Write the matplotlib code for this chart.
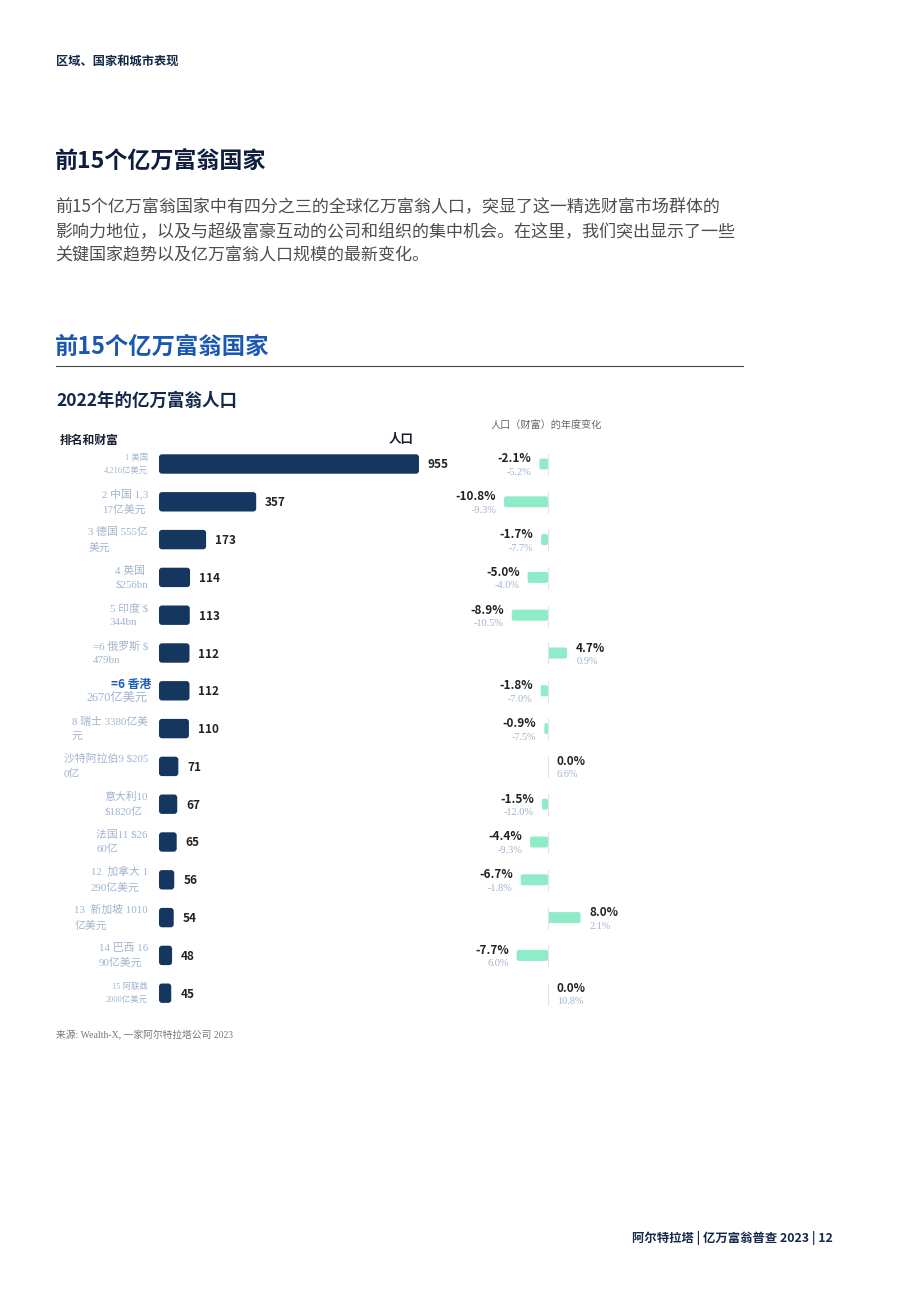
"""Top 15 billionaire countries - population bars with yearly change."""
import matplotlib.pyplot as plt
from matplotlib.patches import FancyBboxPatch, BoxStyle

plt.rcParams['font.family'] = ['Noto Sans CJK SC', 'DejaVu Sans']

W, H = 920, 1302
NAVY = "#14365f"
MINT = "#8eedc8"
PALE = "#a2b4ce"
SERIF = ['Liberation Serif', 'Noto Sans CJK SC']

# ---- data ----
rank_labels = [
    "1 美国\n4,216亿美元",
    "2 中国 1,3\n17亿美元",
    "3 德国 555亿\n美元",
    "4 英国\n$256bn",
    "5 印度 $\n344bn",
    "=6 俄罗斯 $\n479bn",
    "=6 香港",
    "8 瑞士 3380亿美\n元",
    "沙特阿拉伯9 $205\n0亿",
    "意大利10\n$1820亿",
    "法国11 $26\n60亿",
    "12  加拿大 1\n290亿美元",
    "13  新加坡 1010\n亿美元",
    "14 巴西 16\n90亿美元",
    "15 阿联酋\n2000亿美元",
]
hk_wealth = "2670亿美元"
population = [955, 357, 173, 114, 113, 112, 112, 110, 71, 67, 65, 56, 54, 48, 45]
pop_change = [-2.1, -10.8, -1.7, -5.0, -8.9, 4.7, -1.8, -0.9, 0.0, -1.5, -4.4, -6.7, 8.0, -7.7, 0.0]
wealth_change = [-5.2, -9.3, -7.7, -4.0, -10.5, 0.9, -7.0, -7.5, 6.6, -12.0, -9.3, -1.8, 2.1, 6.0, 10.8]

fig = plt.figure(figsize=(W / 100, H / 100), dpi=100)


def px_axes(x0, y0, x1, y1):
    ax = fig.add_axes([x0 / W, 1 - y1 / H, (x1 - x0) / W, (y1 - y0) / H])
    ax.set_axis_off()
    return ax


def ftext(x, y, s, **kw):
    kw.setdefault("va", "center")
    return fig.text(x / W, 1 - y / H, s, **kw)


def rounded_bar(ax, y, value, height, r_px, px_x, px_y, color):
    if value == 0:
        return
    w = abs(value)
    r_px = min(r_px, w * px_x / 2, height * px_y / 2)
    r = r_px / px_x
    aspect = (r_px / px_y) / r
    patch = FancyBboxPatch((min(0, value), y - height / 2), w, height,
                           boxstyle=BoxStyle.Round(pad=0, rounding_size=r),
                           mutation_aspect=aspect, fc=color, ec="none",
                           transform=ax.transData)
    ax.add_patch(patch)


# ---- page header ----
ftext(56, 61, "区域、国家和城市表现", size=8.8, weight="bold", color="#13294b")
ftext(55, 162, "前15个亿万富翁国家", size=16.6, weight="bold", color="#0e1e3c")
para = ["前15个亿万富翁国家中有四分之三的全球亿万富翁人口，突显了这一精选财富市场群体的",
        "影响力地位，以及与超级富豪互动的公司和组织的集中机会。在这里，我们突出显示了一些",
        "关键国家趋势以及亿万富翁人口规模的最新变化。"]
for i, line in enumerate(para):
    ftext(55, 207 + 24 * i, line, size=12.25, color="#4d4d4d")
ftext(55, 347, "前15个亿万富翁国家", size=16.8, weight="bold", color="#1b58b2")
fig.add_artist(plt.Line2D([56 / W, 743 / W], [1 - 366 / H] * 2, color="#444", lw=0.8))
ftext(56, 401, "2022年的亿万富翁人口", size=12.6, weight="bold", color="#13294b")
ftext(60, 440, "排名和财富", size=8.5, weight="bold", color="#1a1f2e")
ftext(389, 440, "人口", size=9, weight="bold", color="#1a1f2e")
ftext(491, 426, "人口（财富）的年度变化", size=7.25, color="#666666")

# ---- population bars ----
row_top, row_step = 445.1, 37.8
n = len(population)
row_bottom = row_top + row_step * n
ax1 = px_axes(159, row_top, 419, row_bottom)
ax1.set_xlim(0, 955)
ax1.set_ylim(n - 0.5, -0.5)
px_x1 = 260 / 955
for i, v in enumerate(population):
    rounded_bar(ax1, i, v, 19.4 / row_step, 3.0, px_x1, row_step, NAVY)
    ax1.annotate(str(v), (v, i), xytext=(9, -1), textcoords="offset pixels",
                 ha="left", va="center", size=8.5, weight="bold", color="#222222")
    if rank_labels[i] == "=6 香港":
        ax1.annotate(rank_labels[i], (0, i), xytext=(-8, 6), textcoords="offset pixels",
                     ha="right", va="center", size=8.5, weight="bold", color="#1f5bb8")
        ax1.annotate(hk_wealth, (0, i), xytext=(-11, -7), textcoords="offset pixels",
                     ha="right", va="center", size=8.8, color=PALE, family=SERIF)
    else:
        small = i in (0, n - 1)
        ax1.annotate(rank_labels[i], (0, i), xytext=(-11, 0), textcoords="offset pixels",
                     ha="right", va="center", size=6.0 if small else 7.8,
                     multialignment="right" if small else "left",
                     color=PALE, family=SERIF, linespacing=1.7 if small else 1.6)

# ---- yearly change bars ----
zero_px, px_x2 = 548, 4.07
ax2 = px_axes(480, row_top, 620, row_bottom)
ax2.set_xlim((480 - zero_px) / px_x2, (620 - zero_px) / px_x2)
ax2.set_ylim(n - 0.5, -0.5)
for i, (pc, wc) in enumerate(zip(pop_change, wealth_change)):
    ax2.vlines(0, i - 0.28, i + 0.3, color="#e3e3e3", lw=0.8)
    rounded_bar(ax2, i, pc, 11 / row_step, 2.0, px_x2, row_step, MINT)
    if pc < 0:
        dx, ha = -8, "right"
    else:
        dx, ha = 9, "left"
    ax2.annotate(f"{pc:.1f}%", (pc, i), xytext=(dx, 5), textcoords="offset pixels",
                 ha=ha, va="center", size=8.5, weight="bold", color="#222222")
    ax2.annotate(f"{wc:.1f}%", (pc, i), xytext=(dx, -8.5), textcoords="offset pixels",
                 ha=ha, va="center", size=7.4, color=PALE, family=SERIF)

# ---- footer ----
ftext(56, 1035, "来源: Wealth-X, 一家阿尔特拉塔公司 2023", size=7.0, color="#777777", family=SERIF)
ftext(833, 1238, "阿尔特拉塔 | 亿万富翁普查 2023 | 12", size=8.9, weight="bold",
      color="#13294b", ha="right")

fig.savefig("out.png", dpi=100)
